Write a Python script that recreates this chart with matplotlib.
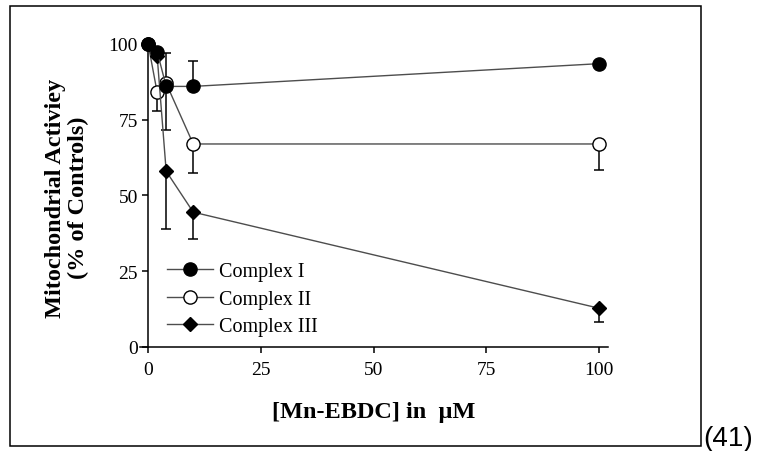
import matplotlib
matplotlib.use("Agg")
import matplotlib.pyplot as plt
from matplotlib.patches import Rectangle

# data
conc = [0, 2, 4, 10, 100]  # Mn-EBDC in uM

c1 = [100, 97.5, 86, 86, 93.5]
c1_up = [0, 0, 11, 8.5, 0]

c2 = [100, 84, 87, 67, 67]
c2_down = [0, 6, 15.5, 9.5, 8.5]

c3 = [100, 96, 58, 44.5, 12.8]
c3_down = [0, 0, 19, 9, 4.5]

xticks = [0, 25, 50, 75, 100]
yticks = [0, 25, 50, 75, 100]

plt.rcParams['font.family'] = ['Liberation Serif', 'DejaVu Serif']

fig = plt.figure(figsize=(7.69, 4.52), dpi=100)
ax = fig.add_axes([0.1821, 0.2301, 0.6085, 0.6905])

zero = [0] * len(conc)

# error bars first, then lines and markers on top
ax.errorbar(conc, c1, yerr=[zero, c1_up], fmt='none', ecolor='black',
            elinewidth=1.1, capsize=3.6, capthick=1.1, zorder=2, clip_on=False)
ax.errorbar(conc, c2, yerr=[c2_down, zero], fmt='none', ecolor='black',
            elinewidth=1.1, capsize=3.6, capthick=1.1, zorder=2, clip_on=False)
ax.errorbar(conc, c3, yerr=[c3_down, zero], fmt='none', ecolor='black',
            elinewidth=1.1, capsize=3.6, capthick=1.1, zorder=2, clip_on=False)

ax.plot(conc, c1, color='0.3', lw=1.0, marker='o', ms=9.5, mfc='black',
        mec='black', label='Complex I', zorder=4, clip_on=False)
ax.plot(conc, c2, color='0.3', lw=1.0, marker='o', ms=9.5, mfc='white',
        mec='black', mew=1.0, label='Complex II', zorder=3, clip_on=False)
ax.plot(conc, c3, color='0.3', lw=1.0, marker='D', ms=7.5, mfc='black',
        mec='black', label='Complex III', zorder=3, clip_on=False)

ax.set_xlim(-1.8, 102)
ax.set_ylim(0, 103)

for s in ['top', 'right']:
    ax.spines[s].set_visible(False)
ax.spines['left'].set_position(('data', 0))
ax.spines['left'].set_bounds(0, 100)
ax.spines['left'].set_linewidth(1.1)
ax.spines['bottom'].set_linewidth(1.1)

ax.set_xticks(xticks)
ax.set_yticks(yticks)
ax.tick_params(direction='out', length=4.3, width=1.1, labelsize=14, pad=3)
ax.tick_params(axis='x', pad=6)

ax.set_xlabel('[Mn-EBDC] in  \u03bcM', fontsize=17.5, fontweight='bold', labelpad=16)
fig.text(0.087, 0.562, 'Mitochondrial Activiey\n(% of Controls)', rotation=90,
         ha='center', va='center', fontsize=17.5, fontweight='bold', linespacing=1.1)

ax.legend(loc='center left', bbox_to_anchor=(0.2172, 0.336), bbox_transform=fig.transFigure,
          frameon=False, fontsize=14.5, handlelength=2.3, handletextpad=0.3,
          labelspacing=0.42, borderpad=0, borderaxespad=0)

# outer frame and figure number
fig.patches.append(Rectangle((0.013, 0.011), 0.8986, 0.9735, transform=fig.transFigure,
                             fill=False, edgecolor='black', linewidth=1.1))
fig.text(0.914, 0.013, '(41)', family='Liberation Sans', fontsize=20, va='baseline')

fig.savefig('out.png', dpi=100)
